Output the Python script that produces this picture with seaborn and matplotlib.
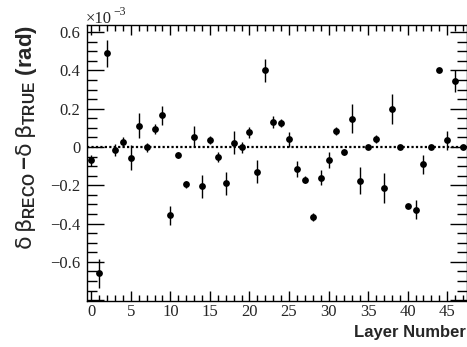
import matplotlib
matplotlib.use("Agg")
import matplotlib.pyplot as plt
import seaborn as sns
import pandas as pd
from matplotlib.ticker import MultipleLocator, FuncFormatter

# residual per layer, in units of 1e-3 rad
layer = list(range(48))
delta = [-0.07, -0.66, 0.49, -0.015, 0.025, -0.055, 0.11, -0.002, 0.095, 0.165,
         -0.357, -0.04, -0.195, 0.054, -0.205, 0.035, -0.052, -0.19, 0.023, -0.002,
         0.077, -0.13, 0.40, 0.13, 0.125, 0.04, -0.115, -0.17, -0.364, -0.16,
         -0.068, 0.085, -0.026, 0.148, -0.176, 0.0, 0.042, -0.216, 0.20, 0.0,
         -0.308, -0.327, -0.09, 0.0, 0.40, 0.036, 0.345, 0.0]
err = [0.03, 0.075, 0.07, 0.03, 0.025, 0.065, 0.065, 0.025, 0.025, 0.05,
       0.05, 0.015, 0.02, 0.055, 0.06, 0.02, 0.025, 0.06, 0.06, 0.03,
       0.03, 0.06, 0.06, 0.03, 0.02, 0.04, 0.04, 0.02, 0.02, 0.04,
       0.04, 0.02, 0.015, 0.077, 0.07, 0.005, 0.02, 0.078, 0.078, 0.005,
       0.01, 0.05, 0.05, 0.005, 0.005, 0.05, 0.057, 0.005]

df = pd.DataFrame({"layer": layer, "delta": delta, "err": err})

sns.set_style("ticks")
plt.rcParams["font.family"] = ["Liberation Serif", "DejaVu Serif"]
plt.rcParams["mathtext.fontset"] = "custom"
plt.rcParams["mathtext.rm"] = "DejaVu Sans"
plt.rcParams["mathtext.bf"] = "Liberation Sans:bold"
plt.rcParams["mathtext.it"] = "DejaVu Sans"

fig = plt.figure(figsize=(4.67, 3.47), dpi=100)
ax = fig.add_axes([0.187, 0.1326, 0.8128, 0.7962])

ax.axhline(0, color="black", linestyle=(0, (1, 1)), linewidth=1.6, zorder=1)
ax.errorbar(df["layer"], df["delta"], yerr=df["err"], fmt="none",
            ecolor="black", elinewidth=1.0, capsize=0, zorder=2)
sns.scatterplot(data=df, x="layer", y="delta", ax=ax, color="black",
                s=24, edgecolor="black", linewidth=0, zorder=3, legend=False)

ax.set_xlim(-0.5, 47.5)
ax.set_ylim(-0.804, 0.6386)
ax.set_xlabel("")
ax.set_ylabel("")

ax.xaxis.set_major_locator(MultipleLocator(5))
ax.xaxis.set_minor_locator(MultipleLocator(1))
ax.yaxis.set_major_locator(MultipleLocator(0.2))
ax.yaxis.set_minor_locator(MultipleLocator(0.05))


def fmt_y(v, pos):
    if abs(v) < 1e-9:
        return "0"
    if v < -0.75:
        return ""
    return f"{v:.1f}".replace("-", "\u2212")


ax.yaxis.set_major_formatter(FuncFormatter(fmt_y))
ax.tick_params(which="both", direction="in", top=True, right=True,
               labelsize=12, width=1, color="black")
ax.tick_params(axis="x", which="major", length=7, pad=2)
ax.tick_params(axis="x", which="minor", length=4)
ax.tick_params(axis="y", which="major", length=12, pad=5)
ax.tick_params(axis="y", which="minor", length=7)
for sp in ax.spines.values():
    sp.set_linewidth(1.0)
    sp.set_color("black")

serif = ["Liberation Serif", "DejaVu Serif"]
fig.text(0.184, 1 - 19 / 347, "\u00d710", ha="left", va="center",
         fontsize=12, family=serif)
fig.text(0.242, 1 - 12 / 347, "\u22123", ha="left", va="center",
         fontsize=8.5, family=serif)
fig.text(0.998, 1 - 333 / 347, "Layer Number", ha="right", va="center",
         fontsize=12, fontweight="bold", family=["Liberation Sans", "DejaVu Sans"])
fig.text(0.056, 0.928,
         r"$\mathrm{\delta\,\beta}_{\mathbf{RECO}}\,\mathbf{-}\mathrm{\delta\,\beta}_{\mathbf{TRUE}}$ (rad)",
         rotation=90, ha="center", va="top", fontsize=16, fontweight="bold",
         family=["Liberation Sans", "DejaVu Sans"])

fig.savefig("out.png", dpi=100)
